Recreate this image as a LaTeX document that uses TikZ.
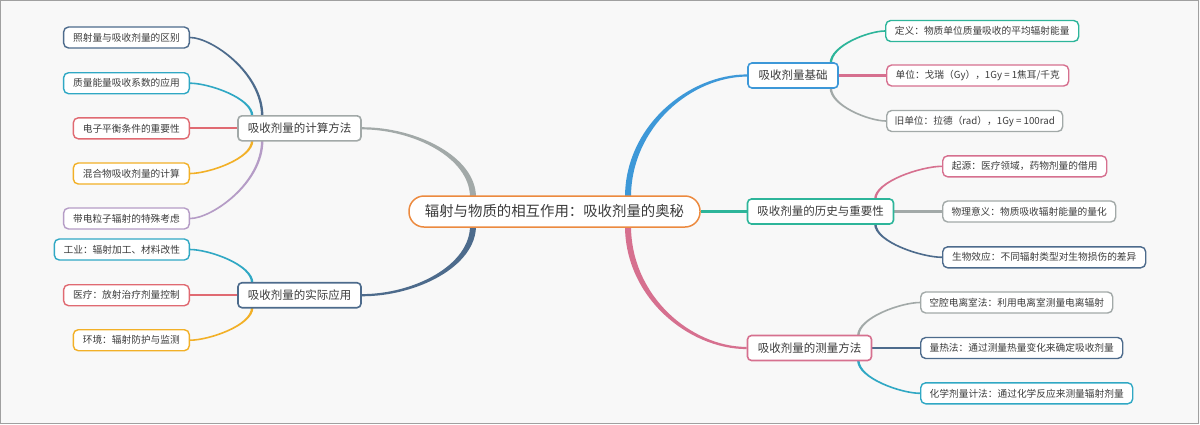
\documentclass[tikz,border=0pt]{standalone}
\usepackage{fontspec}
\setmainfont{Noto Sans CJK SC}
\usetikzlibrary{calc,backgrounds}
\definecolor{cblue}{HTML}{3D98D8}
\definecolor{cteal}{HTML}{2DB59A}
\definecolor{cpink}{HTML}{D6708F}
\definecolor{cgray}{HTML}{A2A9A8}
\definecolor{cdark}{HTML}{4D6B8C}
\definecolor{ccyan}{HTML}{30A8C4}
\definecolor{cred}{HTML}{E06A72}
\definecolor{cyellow}{HTML}{F2B027}
\definecolor{cpurple}{HTML}{B59CC6}
\definecolor{corange}{HTML}{EC8A3F}
\definecolor{ctext}{HTML}{3C3C3C}
\definecolor{cbg}{HTML}{F8F8F8}
\definecolor{cframe}{HTML}{A0A0A0}
% tapered connector: from (vertical start) to (horizontal end)
\newcommand\taper[7]{%
  \fill[#3] let \p1=(#1), \p2=(#2), \n1={sign(\x2-\x1)}, \n2={sign(\y2-\y1)},
    \p3=({\x1-\n1*#4},\y1), \p4=(\x2,{\y2+\n2*#5}),
    \p5=({\x1+\n1*#4},\y1), \p6=(\x2,{\y2-\n2*#5}) in
    (\p3) .. controls (\x3,{\y3+#6*(\y4-\y3)}) and ({\x4+#7*(\x3-\x4)},\y4) .. (\p4)
    -- (\p6) .. controls ({\x6+#7*(\x5-\x6)},\y6) and (\x5,{\y5+#6*(\y6-\y5)}) .. (\p5) -- cycle;}
\newcommand\leafc[3]{\taper{#1}{#2}{#3}{1.2}{0.8}{0.55}{0.3}}
\newcommand\mainc[3]{\taper{#1}{#2}{#3}{3}{1.1}{0.58}{0.48}}
\begin{document}
\begin{tikzpicture}[x=1pt,y=-1pt,
  leaf/.style={draw, line width=1.4pt, rounded corners=5pt, fill=white, minimum height=21pt,
    inner sep=0pt, font=\fontsize{9.7}{11}\selectfont, text=ctext},
  mainbox/.style={draw, line width=1.6pt, rounded corners=4pt, fill=white, minimum height=25pt,
    inner sep=0pt, font=\fontsize{11.5}{13}\selectfont, text=ctext},
  root/.style={draw=corange, line width=1.5pt, rounded corners=15pt, fill=white, minimum height=31pt,
    minimum width=291pt, inner sep=0pt, font=\fontsize{14.4}{16}\selectfont, text=ctext},
  sline/.style={line width=2.2pt},
]
\useasboundingbox (0,0) rectangle (1200,424);

% root and main topics
\node[root] (C) at (554.5,211.5) {辐射与物质的相互作用：吸收剂量的奥秘};
\node[mainbox, draw=cblue, minimum width=90pt] (R1) at (793,75.5) {吸收剂量基础};
\node[mainbox, draw=cteal, minimum width=146pt] (R2) at (820.5,211.5) {吸收剂量的历史与重要性};
\node[mainbox, draw=cpink, minimum width=124pt] (R3) at (809.5,348) {吸收剂量的测量方法};
\node[mainbox, draw=cgray, minimum width=123pt] (L) at (299.5,128.3) {吸收剂量的计算方法};
\node[mainbox, draw=cdark, minimum width=123pt] (A) at (299.5,295.2) {吸收剂量的实际应用};

% left leaves
\node[leaf, draw=cdark, minimum width=125.7pt, anchor=east] (l1) at (190,37.5) {照射量与吸收剂量的区别};
\node[leaf, draw=ccyan, minimum width=125.7pt, anchor=east] (l2) at (190,83.2) {质量能量吸收系数的应用};
\node[leaf, draw=cred, minimum width=116pt, anchor=east] (l3) at (190,128.3) {电子平衡条件的重要性};
\node[leaf, draw=cyellow, minimum width=116pt, anchor=east] (l4) at (190,173.5) {混合物吸收剂量的计算};
\node[leaf, draw=cpurple, minimum width=125.7pt, anchor=east] (l5) at (190,218.5) {带电粒子辐射的特殊考虑};
\node[leaf, draw=ccyan, minimum width=135pt, anchor=east] (a1) at (190,249.5) {工业：辐射加工、材料改性};
\node[leaf, draw=cred, minimum width=125.7pt, anchor=east] (a2) at (190,295.2) {医疗：放射治疗剂量控制};
\node[leaf, draw=cyellow, minimum width=116pt, anchor=east] (a3) at (190,340.2) {环境：辐射防护与监测};

% right leaves
\node[leaf, draw=cteal, minimum width=193pt, anchor=west] (b1) at (885,31) {定义：物质单位质量吸收的平均辐射能量};
\node[leaf, draw=cpink, minimum width=182pt, anchor=west] (b2) at (886,75.5) {单位：戈瑞（Gy），1Gy = 1焦耳/千克};
\node[leaf, draw=cgray, minimum width=176pt, anchor=west] (b3) at (886,121) {旧单位：拉德（rad），1Gy = 100rad};
\node[leaf, draw=cpink, minimum width=164pt, anchor=west] (h1) at (942,166.3) {起源：医疗领域，药物剂量的借用};
\node[leaf, draw=cgray, minimum width=173pt, anchor=west] (h2) at (942,211.5) {物理意义：物质吸收辐射能量的量化};
\node[leaf, draw=cdark, minimum width=203pt, anchor=west] (h3) at (942,257.3) {生物效应：不同辐射类型对生物损伤的差异};
\node[leaf, draw=cgray, minimum width=192pt, anchor=west] (m1) at (920,302.5) {空腔电离室法：利用电离室测量电离辐射};
\node[leaf, draw=cdark, minimum width=202pt, anchor=west] (m2) at (920,348) {量热法：通过测量热量变化来确定吸收剂量};
\node[leaf, draw=ccyan, minimum width=212pt, anchor=west] (m3) at (920,393.3) {化学剂量计法：通过化学反应来测量辐射剂量};

% connector start points
\coordinate (cRt) at ([xshift=73.5pt,yshift=-2pt]C.north);
\coordinate (cRb) at ([xshift=73.5pt,yshift=2pt]C.south);
\coordinate (cLt) at ([xshift=-81.5pt,yshift=-2pt]C.north);
\coordinate (cLb) at ([xshift=-81.5pt,yshift=2pt]C.south);
\coordinate (r1t) at ([xshift=-8pt,yshift=-1pt]R1.north east);
\coordinate (r1b) at ([xshift=-8pt,yshift=1pt]R1.south east);
\coordinate (r2t) at ([xshift=-19pt,yshift=-1pt]R2.north east);
\coordinate (r2b) at ([xshift=-19pt,yshift=1pt]R2.south east);
\coordinate (r3t) at ([xshift=-14pt,yshift=-1pt]R3.north east);
\coordinate (r3b) at ([xshift=-14pt,yshift=1pt]R3.south east);
\coordinate (lto) at ([xshift=25pt,yshift=-1pt]L.north west);
\coordinate (lti) at ([xshift=15pt,yshift=-1pt]L.north west);
\coordinate (lbi) at ([xshift=15pt,yshift=1pt]L.south west);
\coordinate (lbo) at ([xshift=25pt,yshift=1pt]L.south west);
\coordinate (at) at ([xshift=15pt,yshift=-1pt]A.north west);
\coordinate (ab) at ([xshift=15pt,yshift=1pt]A.south west);

\begin{pgfonlayer}{background}
  \fill[cbg] (0,0) rectangle (1200,424);
  \draw[cframe, line width=1pt] (0.5,0.5) rectangle (1198.5,423.5);
  % main branches
  \mainc{cRt}{R1.west}{cblue}
  \mainc{cRb}{R3.west}{cpink}
  \mainc{cLt}{L.east}{cgray}
  \mainc{cLb}{A.east}{cdark}
  \draw[cteal, line width=3pt] (C.east) -- (R2.west);
  % right leaves
  \leafc{r1t}{b1.west}{cteal}
  \draw[cpink, sline] (R1.east) -- (b2.west);
  \leafc{r1b}{b3.west}{cgray}
  \leafc{r2t}{h1.west}{cpink}
  \draw[cgray, sline] (R2.east) -- (h2.west);
  \leafc{r2b}{h3.west}{cdark}
  \leafc{r3t}{m1.west}{cgray}
  \draw[cdark, sline] (R3.east) -- (m2.west);
  \leafc{r3b}{m3.west}{ccyan}
  % left leaves
  \leafc{lto}{l1.east}{cdark}
  \leafc{lti}{l2.east}{ccyan}
  \draw[cred, sline] (L.west) -- (l3.east);
  \leafc{lbi}{l4.east}{cyellow}
  \leafc{lbo}{l5.east}{cpurple}
  \leafc{at}{a1.east}{ccyan}
  \draw[cred, sline] (A.west) -- (a2.east);
  \leafc{ab}{a3.east}{cyellow}
\end{pgfonlayer}
\end{tikzpicture}
\end{document}
